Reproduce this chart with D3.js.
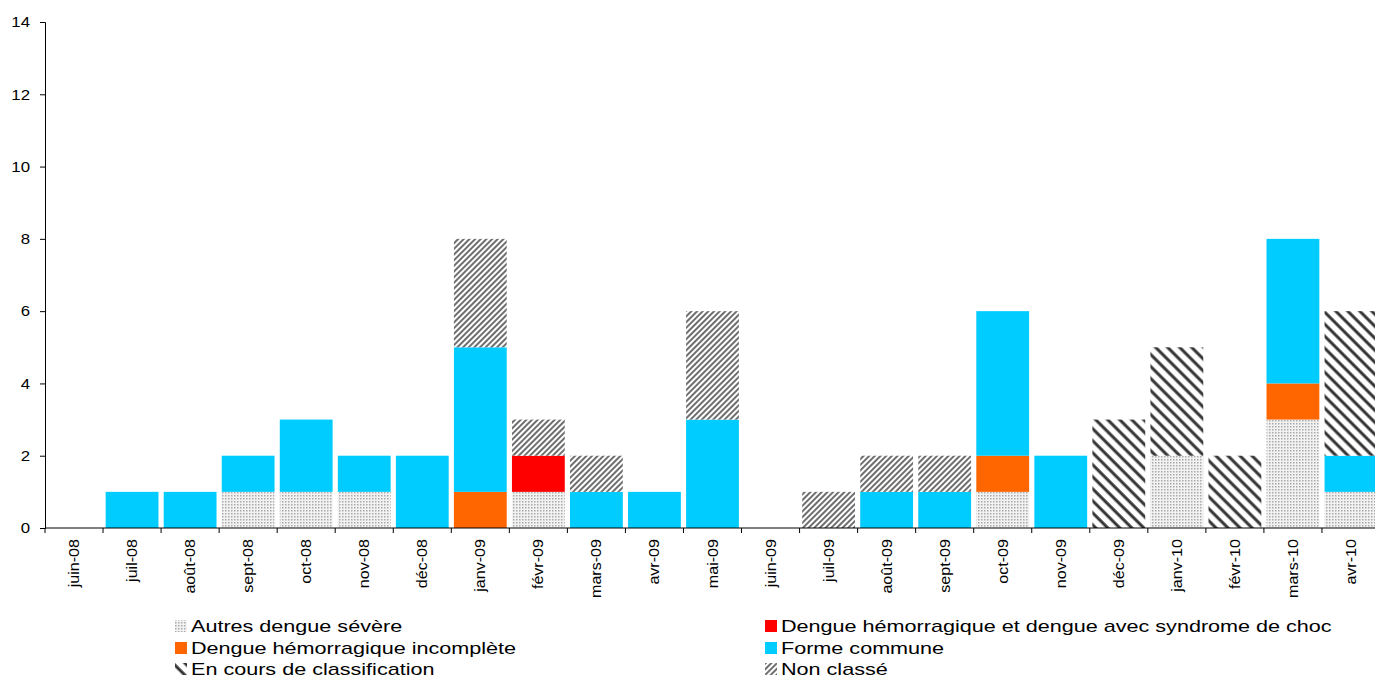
<!DOCTYPE html>
<meta charset="utf-8">
<style>
body { margin: 0; background: #fff; }
text { font-family: "Liberation Sans", Arial, sans-serif; fill: #000; }
.axis path, .axis line { stroke: #000; }
</style>
<body>
<script src="https://d3js.org/d3.v7.min.js"></script>
<script>
// months on the x axis
var months = ["juin-08","juil-08","août-08","sept-08","oct-08","nov-08","déc-08","janv-09","févr-09","mars-09","avr-09","mai-09",
              "juin-09","juil-09","août-09","sept-09","oct-09","nov-09","déc-09","janv-10","févr-10","mars-10","avr-10"];
// series values, stacked bottom to top
var autres     = [0,0,0,1,1,1,0,0,1,0,0,0,0,0,0,0,1,0,0,2,0,3,1];
var incomplete = [0,0,0,0,0,0,0,1,0,0,0,0,0,0,0,0,1,0,0,0,0,1,0];
var choc       = [0,0,0,0,0,0,0,0,1,0,0,0,0,0,0,0,0,0,0,0,0,0,0];
var commune    = [0,1,1,1,2,1,2,4,0,1,1,3,0,0,1,1,4,2,0,0,0,4,1];
var enCours    = [0,0,0,0,0,0,0,0,0,0,0,0,0,0,0,0,0,0,3,3,2,0,4];
var nonClasse  = [0,0,0,0,0,0,0,3,1,1,0,3,0,1,1,1,0,0,0,0,0,0,0];
var yTicks = [0,2,4,6,8,10,12,14];

var seriesNames = ["Autres dengue sévère","Dengue hémorragique incomplète","Dengue hémorragique et dengue avec syndrome de choc",
                   "Forme commune","En cours de classification","Non classé"];
var seriesVals = [autres, incomplete, choc, commune, enCours, nonClasse];
var fills = ["url(#dots)","#FF6600","#FF0000","#00CCFF","url(#wide)","url(#fine)"];

var rows = months.map(function(m, i) {
    var r = {month: m};
    seriesNames.forEach(function(s, j) { r[s] = seriesVals[j][i]; });
    return r;
});

var width = 1375, height = 677;
var svg = d3.select("body").append("svg").attr("width", width).attr("height", height);

var defs = svg.append("defs");
var pd = defs.append("pattern").attr("id","dots").attr("patternUnits","userSpaceOnUse").attr("width",3).attr("height",3);
pd.append("rect").attr("width",3).attr("height",3).attr("fill","#f2f2f2");
pd.append("rect").attr("width",1.5).attr("height",1.5).attr("fill","#aaa");
var pf = defs.append("pattern").attr("id","fine").attr("patternUnits","userSpaceOnUse").attr("width",4).attr("height",4)
    .attr("patternTransform","rotate(45)");
pf.append("rect").attr("width",4).attr("height",4).attr("fill","#fff");
pf.append("line").attr("x1",1).attr("x2",1).attr("y1",0).attr("y2",4).attr("stroke","#555").attr("stroke-width",1.7);
var pw = defs.append("pattern").attr("id","wide").attr("patternUnits","userSpaceOnUse").attr("width",8.5).attr("height",8.5)
    .attr("patternTransform","rotate(-45)");
pw.append("rect").attr("width",8.5).attr("height",8.5).attr("fill","#fff");
pw.append("line").attr("x1",2).attr("x2",2).attr("y1",0).attr("y2",8.5).attr("stroke","#333").attr("stroke-width",3);

var x0 = 45, x1 = 1380, yTop = 22, yBot = 528;
var x = d3.scaleBand().domain(months).range([x0, x1]).paddingInner(0.09).paddingOuter(0.045);
var y = d3.scaleLinear().domain([0, 14]).range([yBot, yTop]);

var stack = d3.stack().keys(seriesNames)(rows);

svg.append("g").selectAll("g").data(stack).enter().append("g")
    .attr("fill", function(d, i) { return fills[i]; })
    .selectAll("rect").data(function(d) { return d; }).enter()
    .filter(function(d) { return d[1] > d[0]; })
    .append("rect")
    .attr("x", function(d) { return x(d.data.month); })
    .attr("width", x.bandwidth())
    .attr("y", function(d) { return y(d[1]); })
    .attr("height", function(d) { return y(d[0]) - y(d[1]); });

// y axis (text stretched a bit wider, like the original)
var yAxis = svg.append("g").attr("class","axis").attr("transform","translate(" + x0 + ",0)")
    .call(d3.axisLeft(y).tickValues(yTicks).tickSize(5).tickSizeOuter(5).tickPadding(8.4));
yAxis.selectAll("text").style("font-size","15px").style("font-family","Liberation Sans, Arial, sans-serif")
    .attr("transform","scale(1.12,1)");

// x axis: ticks between months
var xAxis = svg.append("g").attr("class","axis");
xAxis.append("line").attr("x1", x0).attr("x2", x1).attr("y1", yBot).attr("y2", yBot).attr("stroke","#000");
d3.range(months.length + 1).forEach(function(i) {
    var xx = x0 + i * (x1 - x0) / months.length;
    xAxis.append("line").attr("x1", xx).attr("x2", xx).attr("y1", yBot).attr("y2", yBot + 5).attr("stroke","#000");
});
xAxis.selectAll("text.lab").data(months).enter().append("text")
    .attr("class","lab")
    .attr("transform", function(d) { return "translate(" + (x(d) + x.bandwidth() / 2 + 5) + "," + (yBot + 11) + ") rotate(-90) scale(1.15,1)"; })
    .attr("text-anchor","end")
    .style("font-size","14px")
    .text(function(d) { return d; });

// legend
var legPos = [[175,625],[765,625],[175,647],[765,647],[175,668],[765,668]];
var legOrder = [0,2,1,3,4,5];
var leg = svg.append("g").selectAll("g").data(legOrder).enter().append("g")
    .attr("transform", function(d, i) { return "translate(" + legPos[i][0] + "," + legPos[i][1] + ")"; });
leg.append("rect").attr("x",0).attr("y",-5).attr("width",12).attr("height",12)
    .attr("fill", function(d) { return fills[d]; });
leg.append("text").attr("transform","translate(16,7) scale(1.27,1)").style("font-size","17px")
    .text(function(d) { return seriesNames[d]; });
</script>
</body>
